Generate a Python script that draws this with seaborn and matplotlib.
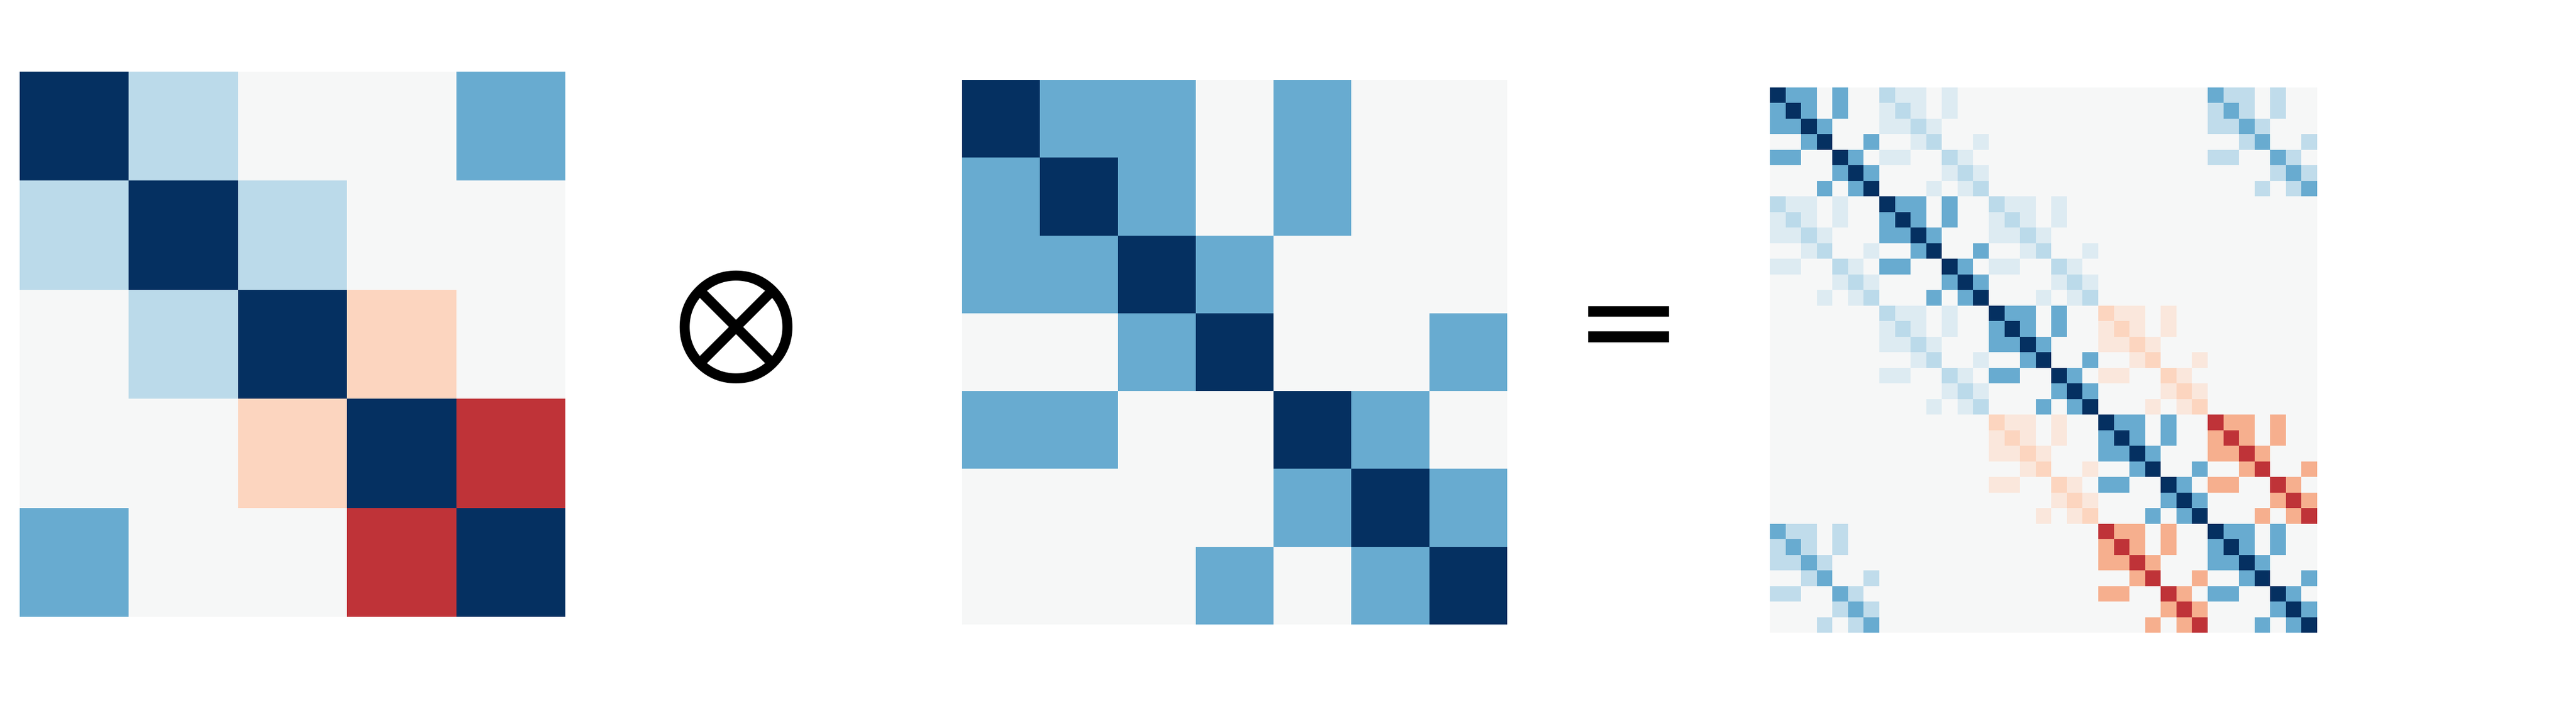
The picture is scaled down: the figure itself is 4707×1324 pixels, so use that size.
import numpy as np
import seaborn as sns
import matplotlib.pyplot as plt

# left factor (5x5)
left_matrix = [
    [1.00, 0.27, 0.00, 0.00, 0.50],
    [0.27, 1.00, 0.27, 0.00, 0.00],
    [0.00, 0.27, 1.00, -0.22, 0.00],
    [0.00, 0.00, -0.22, 1.00, -0.72],
    [0.50, 0.00, 0.00, -0.72, 1.00],
]

# right factor (7x7)
right_matrix = [
    [1.0, 0.5, 0.5, 0.0, 0.5, 0.0, 0.0],
    [0.5, 1.0, 0.5, 0.0, 0.5, 0.0, 0.0],
    [0.5, 0.5, 1.0, 0.5, 0.0, 0.0, 0.0],
    [0.0, 0.0, 0.5, 1.0, 0.0, 0.0, 0.5],
    [0.5, 0.5, 0.0, 0.0, 1.0, 0.5, 0.0],
    [0.0, 0.0, 0.0, 0.0, 0.5, 1.0, 0.5],
    [0.0, 0.0, 0.0, 0.5, 0.0, 0.5, 1.0],
]

# Kronecker product (35x35)
product = np.kron(np.array(left_matrix), np.array(right_matrix))

W, H = 4707, 1324
fig = plt.figure(figsize=(W / 100, H / 100), dpi=100)

# axes boxes in pixels: (left, top, width, height)
boxes = [
    (36, 131, 997, 997),
    (1758, 146, 996, 996),
    (3234, 160, 1000, 997),
]
mats = [left_matrix, right_matrix, product]

for (x0, top, w, h), m in zip(boxes, mats):
    ax = fig.add_axes([x0 / W, (H - top - h) / H, w / W, h / H])
    sns.heatmap(m, ax=ax, cmap='RdBu', vmin=-1, vmax=1, center=0,
                cbar=False, xticklabels=False, yticklabels=False)
    ax.set_xticks([])
    ax.set_yticks([])

# operators
fig.text(1338 / W, 1 - 562 / H, r'$\otimes$', ha='center', va='center_baseline',
         fontsize=200, color='black', math_fontfamily='stix')
fig.text(2976 / W, 1 - 578 / H, '=', ha='center', va='center_baseline',
         fontsize=170, color='black', family='DejaVu Sans')

fig.savefig('out.png', dpi=100, facecolor='white')
